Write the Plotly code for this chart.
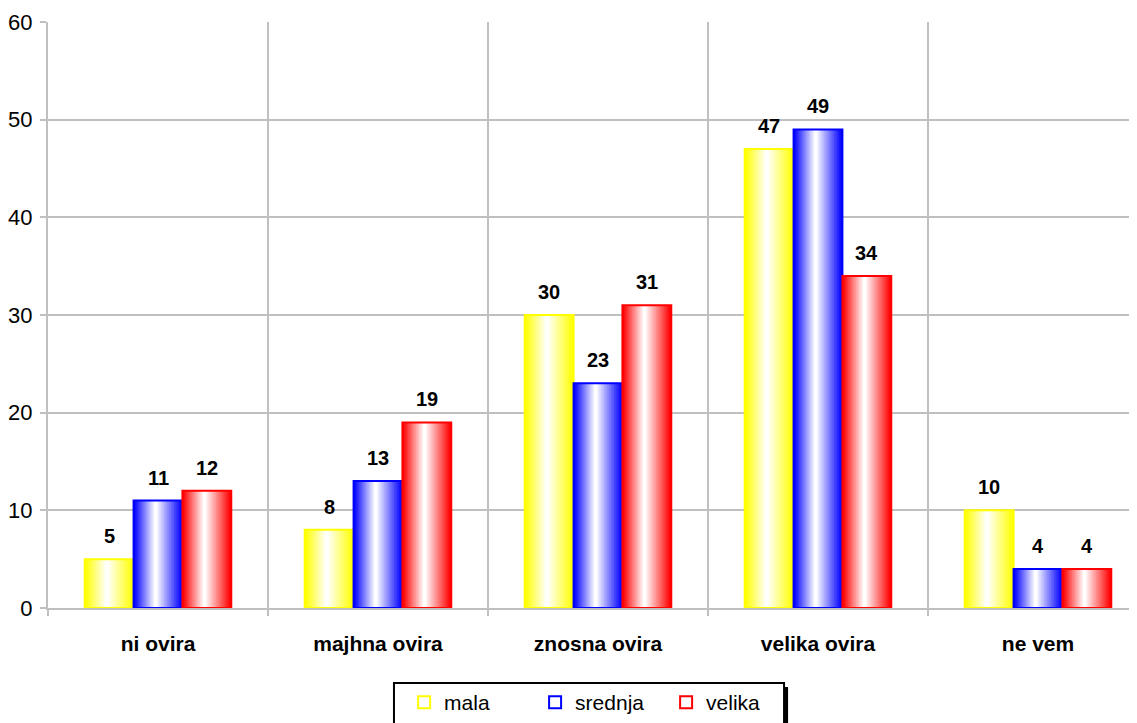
import plotly.graph_objects as go

categories = ["ni ovira", "majhna ovira", "znosna ovira", "velika ovira", "ne vem"]
series_names = ["mala", "srednja", "velika"]
mala = [5, 8, 30, 47, 10]
srednja = [11, 13, 23, 49, 4]
velika = [12, 19, 31, 34, 4]
y_ticks = [0, 10, 20, 30, 40, 50, 60]

series_values = [mala, srednja, velika]
series_colors = [(255, 255, 0), (0, 0, 255), (255, 0, 0)]
BAR_W = 0.222
OFFSETS = [-0.333, -0.111, 0.111]
K = 16          # gradient layers per bar
WHITE_AT = 0.45  # relative position of the white centre of the gradient
GRID = "#C0C0C0"
FONT = "Arial, Liberation Sans, sans-serif"


def mix(c, t):
    r, g, b = (round(v + (255 - v) * t) for v in c)
    return f"rgb({r},{g},{b})"


fig = go.Figure()

for name, vals, col, off in zip(series_names, series_values, series_colors, OFFSETS):
    for k in range(K):
        f = k / K
        left = off + f * WHITE_AT * BAR_W
        right = off + BAR_W - f * (1 - WHITE_AT) * BAR_W
        fig.add_trace(go.Bar(
            x=categories, y=vals, offset=left, width=right - left,
            marker=dict(color=mix(col, k / (K - 1)), line=dict(width=0)),
            showlegend=False, hoverinfo="skip",
        ))
    # outline (also the legend entry)
    fig.add_trace(go.Bar(
        x=categories, y=vals, offset=off, width=BAR_W, name=name,
        marker=dict(color="rgba(255,255,255,0)", line=dict(width=2, color=mix(col, 0))),
        hoverinfo="skip",
    ))

# data labels
annotations = []
for vals, off in zip(series_values, OFFSETS):
    for i, v in enumerate(vals):
        annotations.append(dict(
            x=i + off + BAR_W / 2, y=v, xref="x", yref="y", text=str(v),
            showarrow=False, yanchor="middle", yshift=23,
            font=dict(size=20, color="black", family=FONT, weight="bold"),
        ))

fig.update_layout(
    width=1129, height=715,
    margin=dict(l=40, r=0, t=14, b=114),
    barmode="overlay",
    plot_bgcolor="white", paper_bgcolor="white",
    font=dict(family=FONT, color="black"),
    annotations=annotations,
    showlegend=True,
    legend=dict(
        orientation="h", x=0.327, y=-0.126, xanchor="left", yanchor="top",
        bgcolor="rgba(0,0,0,0)", font=dict(size=21, family=FONT),
        entrywidth=86, traceorder="normal",
    ),
    shapes=[
        dict(type="rect", xref="paper", yref="paper",
             x0=0.3177 + 0.0037, x1=0.6759 + 0.0037, y0=-0.1278 - 0.0068, y1=-0.26,
             fillcolor="black", line=dict(width=0), layer="above"),
        dict(type="rect", xref="paper", yref="paper",
             x0=0.3177, x1=0.6759, y0=-0.1278, y1=-0.26,
             fillcolor="white", line=dict(width=2, color="black"), layer="above"),
    ],
    xaxis=dict(
        type="category", range=[-0.5, 4.45], tickson="boundaries",
        showgrid=True, gridcolor=GRID, gridwidth=2,
        showline=True, linecolor=GRID, linewidth=2,
        ticks="outside", ticklen=6, tickcolor=GRID, tickwidth=2,
        tickfont=dict(size=21, family=FONT, weight="bold"),
        ticklabelstandoff=16,
    ),
    yaxis=dict(
        range=[0, 60], tickvals=y_ticks,
        showgrid=True, gridcolor=GRID, gridwidth=2,
        showline=True, linecolor=GRID, linewidth=2, zeroline=False,
        ticks="outside", ticklen=6, tickcolor=GRID, tickwidth=2,
        tickfont=dict(size=22, family=FONT),
        ticklabelstandoff=3,
    ),
)

fig.write_html("out.html")
